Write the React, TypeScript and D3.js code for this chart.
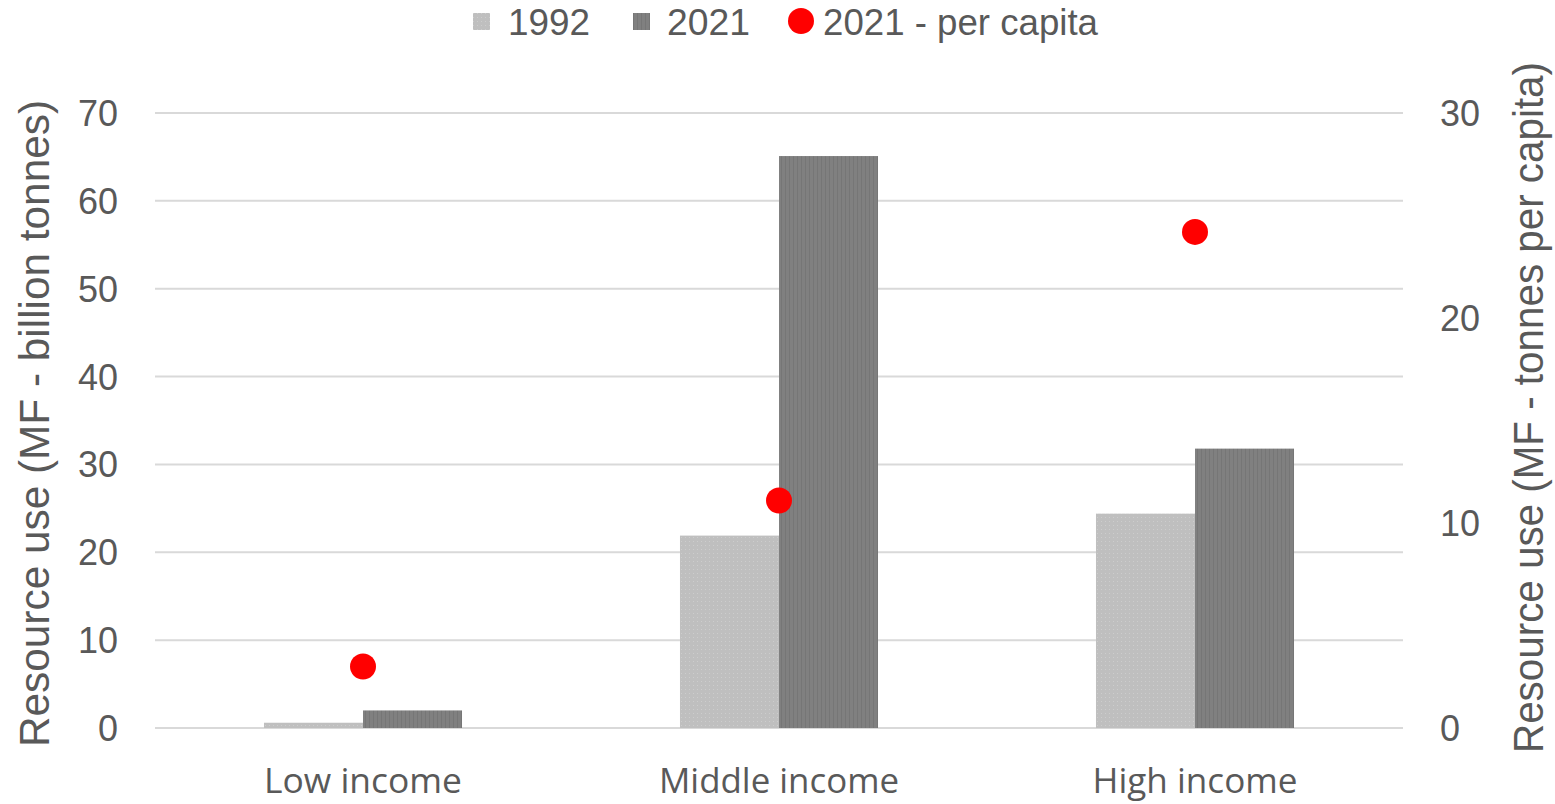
import React from "react";
import * as d3 from "d3";

const categories = ["Low income", "Middle income", "High income"];
const values1992 = [0.6, 21.9, 24.4];
const values2021 = [2.0, 65.1, 31.8];
const perCapita2021 = [3.0, 11.1, 24.2];
const leftTicks = [0, 10, 20, 30, 40, 50, 60, 70];
const rightTicks = [0, 10, 20, 30];
const categoryLabelWidths = [198, 240, 205];

const W = 1555;
const H = 804;
const plotLeft = 155;
const plotRight = 1403;
const plotTop = 113;
const plotBottom = 728;
const textColor = "#595959";
const font = "'Liberation Sans', Arial, sans-serif";
const catFont = "'Open Sans', 'Liberation Sans', sans-serif";

export default function App() {
  const x = d3
    .scaleBand<string>()
    .domain(categories)
    .range([plotLeft, plotRight])
    .paddingInner(0.524)
    .paddingOuter(0.262);
  const yL = d3.scaleLinear().domain([0, 70]).range([plotBottom, plotTop]);
  const yR = d3.scaleLinear().domain([0, 30]).range([plotBottom, plotTop]);
  const bw = x.bandwidth() / 2;

  return (
    <svg width={W} height={H} style={{ position: "absolute", left: 0, top: 0, background: "#fff" }}>
      <defs>
        <pattern id="p1992" width="4" height="4" patternUnits="userSpaceOnUse">
          <rect width="4" height="4" fill="#BFBFBF" />
          <rect x="1" y="1" width="1" height="1" fill="#CDCDCD" />
        </pattern>
        <pattern id="p2021" width="4" height="4" patternUnits="userSpaceOnUse">
          <rect width="4" height="4" fill="#808080" />
          <rect x="1" y="0" width="1" height="4" fill="#767676" />
        </pattern>
      </defs>
      <rect width={W} height={H} fill="#fff" />
      {leftTicks.map((t) => (
        <g key={"l" + t}>
          <line x1={plotLeft} x2={plotRight} y1={yL(t)} y2={yL(t)} stroke="#D9D9D9" strokeWidth={2} />
          <text x={118} y={yL(t)} dy="0.36em" textAnchor="end" fontSize={36} fill={textColor} fontFamily={font}>{t}</text>
        </g>
      ))}
      {rightTicks.map((t) => (
        <text key={"r" + t} x={1440} y={yR(t)} dy="0.36em" textAnchor="start" fontSize={36} fill={textColor} fontFamily={font}>{t}</text>
      ))}
      {categories.map((c, i) => {
        const x0 = x(c)!;
        return (
          <g key={c}>
            <rect x={x0} y={yL(values1992[i])} width={bw} height={plotBottom - yL(values1992[i])} fill="url(#p1992)" />
            <rect x={x0 + bw} y={yL(values2021[i])} width={bw} height={plotBottom - yL(values2021[i])} fill="url(#p2021)" />
            <circle cx={x0 + bw} cy={yR(perCapita2021[i])} r={13} fill="#FF0000" />
            <text
              x={x0 + bw - categoryLabelWidths[i] / 2}
              y={793}
              textLength={categoryLabelWidths[i]}
              lengthAdjust="spacingAndGlyphs"
              fontSize={35}
              fill={textColor}
              fontFamily={catFont}
            >
              {c}
            </text>
          </g>
        );
      })}
      <text
        transform="translate(49, 747) rotate(-90)"
        textLength={647}
        lengthAdjust="spacingAndGlyphs"
        fontSize={42}
        fill={textColor}
        fontFamily={font}
      >
        Resource use (MF - billion tonnes)
      </text>
      <text
        transform="translate(1543, 753) rotate(-90)"
        textLength={691}
        lengthAdjust="spacingAndGlyphs"
        fontSize={42}
        fill={textColor}
        fontFamily={font}
      >
        Resource use (MF - tonnes per capita)
      </text>
      <g fontFamily={font} fontSize={37} fill={textColor}>
        <rect x={473} y={13} width={17} height={17} fill="url(#p1992)" />
        <text x={508} y={35} textLength={82} lengthAdjust="spacingAndGlyphs">1992</text>
        <rect x={633} y={13} width={17} height={17} fill="url(#p2021)" />
        <text x={667} y={35} textLength={83} lengthAdjust="spacingAndGlyphs">2021</text>
        <circle cx={801} cy={21} r={13} fill="#FF0000" />
        <text x={823} y={35} textLength={275} lengthAdjust="spacingAndGlyphs">2021 - per capita</text>
      </g>
    </svg>
  );
}
